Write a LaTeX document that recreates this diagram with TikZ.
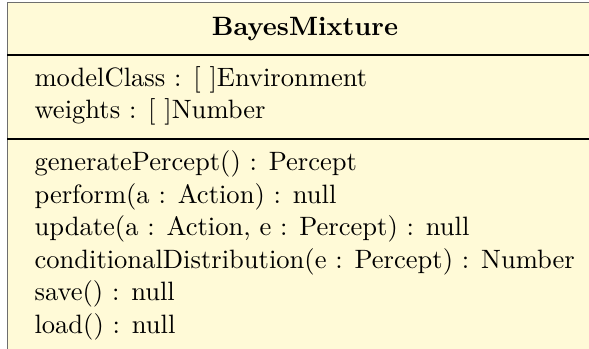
\documentclass[tikz,border=0pt]{standalone}
\usepackage{xcolor}
\definecolor{umlfill}{RGB}{255,250,215}
\definecolor{umlborder}{RGB}{110,110,110}
\begin{document}
\begin{tikzpicture}[x=0.3676pt,y=-0.3676pt,
  txt/.style={anchor=base west,inner sep=0pt,font=\fontsize{9.76}{12}\selectfont},
  ttl/.style={anchor=base,inner sep=0pt,font=\fontsize{9.76}{12}\selectfont\bfseries}]
\useasboundingbox (0,0) rectangle (589,349);
\begin{scope}
\clip (0,0) rectangle (589,349);
\draw[umlborder,fill=umlfill,line width=0.7pt] (7.5,2.5) rectangle (603,370);
\coordinate (s1l) at (7.5,55); \coordinate (s1r) at (603,55);
\coordinate (s2l) at (7.5,139); \coordinate (s2r) at (603,139);
\draw[black,line width=0.4pt] (s1l) -- (s1r);
\draw[black,line width=0.4pt] (s2l) -- (s2r);
\end{scope}
\node[ttl] (title) at (305,36) {BayesMixture};
\node[txt] (a1) at (34,87) {modelClass : [ ]Environment};
\node[txt] (a2) at (34,119) {weights : [ ]Number};
\node[txt] (o1) at (34,171) {generatePercept() : Percept};
\node[txt] (o2) at (34,204) {perform(a : Action) : null};
\node[txt] (o3) at (34,236) {update(a : Action, e : Percept) : null};
\node[txt] (o4) at (34,269) {conditionalDistribution(e : Percept) : Number};
\node[txt] (o5) at (34,301) {save() : null};
\node[txt] (o6) at (34,334) {load() : null};
\end{tikzpicture}
\end{document}
